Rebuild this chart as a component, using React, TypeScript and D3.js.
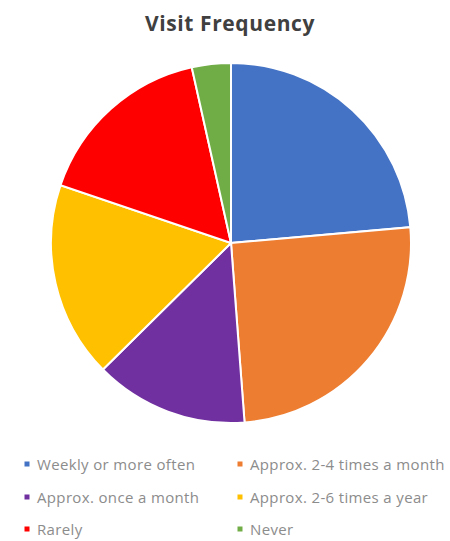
import React from "react";
import * as d3 from "d3";

const categories = [
  "Weekly or more often",
  "Approx. 2-4 times a month",
  "Approx. once a month",
  "Approx. 2-6 times a year",
  "Rarely",
  "Never",
];
const values = [23.6, 25.2, 13.8, 17.6, 16.3, 3.5];
const colors = ["#4472C4", "#ED7D31", "#7030A0", "#FFC000", "#FF0000", "#70AD47"];
const title = "Visit Frequency";

const W = 450;
const H = 541;

export default function App() {
  const cx = 231;
  const cy = 243;
  const r = 180;
  const pie = d3.pie<number>().sort(null).value((d) => d)(values);
  const arc = d3.arc<d3.PieArcDatum<number>>().innerRadius(0).outerRadius(r);

  const legendCols = [27, 240];
  const legendRows = [464, 497, 529];

  return (
    <svg
      width={W}
      height={H}
      style={{ position: "absolute", left: 0, top: 0, background: "#fff" }}
    >
      <text
        x={230}
        y={31}
        textAnchor="middle"
        fontFamily="Open Sans"
        fontWeight="bold"
        fontSize={21}
        letterSpacing={0.6}
        fill="#404040"
      >
        {title}
      </text>
      <g transform={`translate(${cx},${cy})`}>
        {pie.map((p, i) => (
          <path key={i} d={arc(p) || ""} fill={colors[i]} stroke="#fff" strokeWidth={2} />
        ))}
      </g>
      {categories.map((c, i) => {
        const x = legendCols[i % 2];
        const y = legendRows[Math.floor(i / 2)];
        return (
          <g key={c}>
            <rect x={x - 2.5} y={y - 2.5} width={5} height={5} fill={colors[i]} />
            <text
              x={x + 10}
              y={y}
              dominantBaseline="central"
              fontFamily="Open Sans"
              fontSize={15}
              letterSpacing={0.35}
              fill="#8c8c8c"
            >
              {c}
            </text>
          </g>
        );
      })}
    </svg>
  );
}
